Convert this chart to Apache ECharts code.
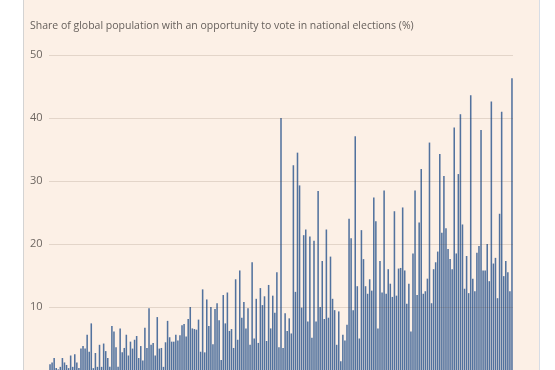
<!DOCTYPE html>
<html>
<head>
<meta charset="utf-8">
<script src="https://cdn.jsdelivr.net/npm/echarts@6/dist/echarts.min.js"></script>
<style>
  html, body { margin: 0; padding: 0; background: #ffffff; }
  #card { position: absolute; left: 23px; top: -2px; width: 515px; height: 380px;
          background: #fcf0e6; border-left: 1px solid #d3d3d3; border-right: 1px solid #d6dde6; }
  #chart { position: absolute; left: 0; top: 0; width: 555px; height: 370px; }
</style>
</head>
<body>
<div id="card"></div>
<div id="chart"></div>
<script>
// Years 1800..2024
const startYear = 1800;
const endYear = 2024;
const years = [];
for (let y = startYear; y <= endYear; y++) years.push(String(y));

// Share of global population with an opportunity to vote (%)
const share1800s = [
  0.9, 1.2, 1.9, 0.3, 0.1, 0.5, 1.9, 1.2, 0.8, 0.3,
  2.3, 0.5, 2.5, 1.2, 0.3, 3.4, 3.8, 3.4, 5.6, 2.9,
  7.4, 0.3, 2.7, 0.5, 4.0, 0.5, 4.2, 3.0, 1.9, 0.5,
  7.0, 6.1, 3.6, 0.5, 6.6, 2.8, 3.5, 5.6, 2.3, 4.5,
  3.4, 4.8, 5.4, 1.9, 3.8, 1.5, 6.7, 3.5, 9.8, 4.0,
  4.3, 2.3, 8.4, 3.4, 3.5, 0.5, 4.4, 7.8, 5.2, 4.5,
  4.5, 5.6, 4.7, 5.5, 7.1, 7.3, 5.3, 8.1, 10.0, 6.6,
  6.5, 6.4, 8.0, 2.9, 12.8, 2.8, 11.2, 7.0, 10.0, 4.1,
  9.7, 10.6, 7.9, 1.6, 11.9, 7.4, 12.3, 6.2, 6.5, 3.5,
  14.4, 4.8, 15.8, 8.3, 10.8, 6.6, 9.8, 4.0, 17.1, 5.0
];
const share1900s = [
  11.3, 4.3, 13.0, 10.3, 11.7, 4.6, 13.5, 6.6, 11.8, 9.1,
  15.5, 3.6, 40.0, 3.5, 9.0, 6.2, 8.2, 5.8, 32.5, 12.4,
  34.5, 29.3, 9.9, 21.4, 22.3, 7.7, 21.2, 5.1, 20.5, 7.7,
  28.4, 10.0, 17.3, 8.1, 22.3, 8.3, 18.0, 11.3, 9.5, 4.0,
  9.3, 1.4, 5.6, 4.7, 7.2, 24.0, 20.9, 9.5, 37.1, 13.3,
  5.0, 22.2, 17.6, 13.3, 12.1, 14.4, 12.6, 27.4, 23.6, 6.6,
  17.3, 12.3, 28.5, 12.1, 16.0, 13.7, 11.6, 25.2, 11.8, 16.1,
  16.2, 25.8, 15.8, 10.5, 13.7, 6.1, 18.5, 28.5, 11.9, 23.4,
  31.9, 12.1, 12.5, 14.5, 36.1, 10.6, 16.0, 17.1, 18.8, 34.3,
  21.8, 30.8, 22.5, 19.2, 17.6, 16.0, 38.5, 18.5, 31.1, 40.6
];
const share2000s = [
  23.1, 12.9, 18.1, 12.2, 43.6, 14.5, 12.5, 18.6, 19.7, 38.1,
  15.8, 15.8, 20.0, 14.1, 42.6, 16.9, 17.8, 11.4, 24.8, 41.0,
  14.9, 17.3, 15.5, 12.5, 46.3
];
const shares = share1800s.concat(share1900s, share2000s);

const yTicks = [0, 10, 20, 30, 40, 50];
const titleText = 'Share of global population with an opportunity to vote in national elections (%)';

const chart = echarts.init(document.getElementById('chart'), null, { renderer: 'canvas' });
chart.setOption({
  animation: false,
  backgroundColor: 'transparent',
  title: {
    text: titleText,
    left: 25,
    top: 16,
    textStyle: { fontFamily: 'Open Sans', fontSize: 10.5, fontWeight: 'normal', color: '#66605c' }
  },
  grid: { left: 49, right: 42, top: 55, bottom: -5, containLabel: false },
  xAxis: {
    type: 'category',
    data: years,
    axisLine: { show: false },
    axisTick: { show: false },
    axisLabel: { show: false },
    splitLine: { show: false }
  },
  yAxis: {
    type: 'value',
    min: yTicks[0],
    max: yTicks[yTicks.length - 1],
    interval: 10,
    z: 5,
    axisLine: { show: false },
    axisTick: { show: false },
    axisLabel: {
      align: 'left',
      margin: 19,
      fontFamily: 'Open Sans',
      fontSize: 11,
      color: '#6e6762',
      formatter: v => (v === 0 ? '' : String(v))
    },
    splitLine: { lineStyle: { color: 'rgba(90,60,40,0.15)', width: 1 } }
  },
  series: [{
    type: 'bar',
    data: shares,
    barCategoryGap: '25%',
    itemStyle: { color: '#52729e' }
  }]
});
</script>
</body>
</html>
